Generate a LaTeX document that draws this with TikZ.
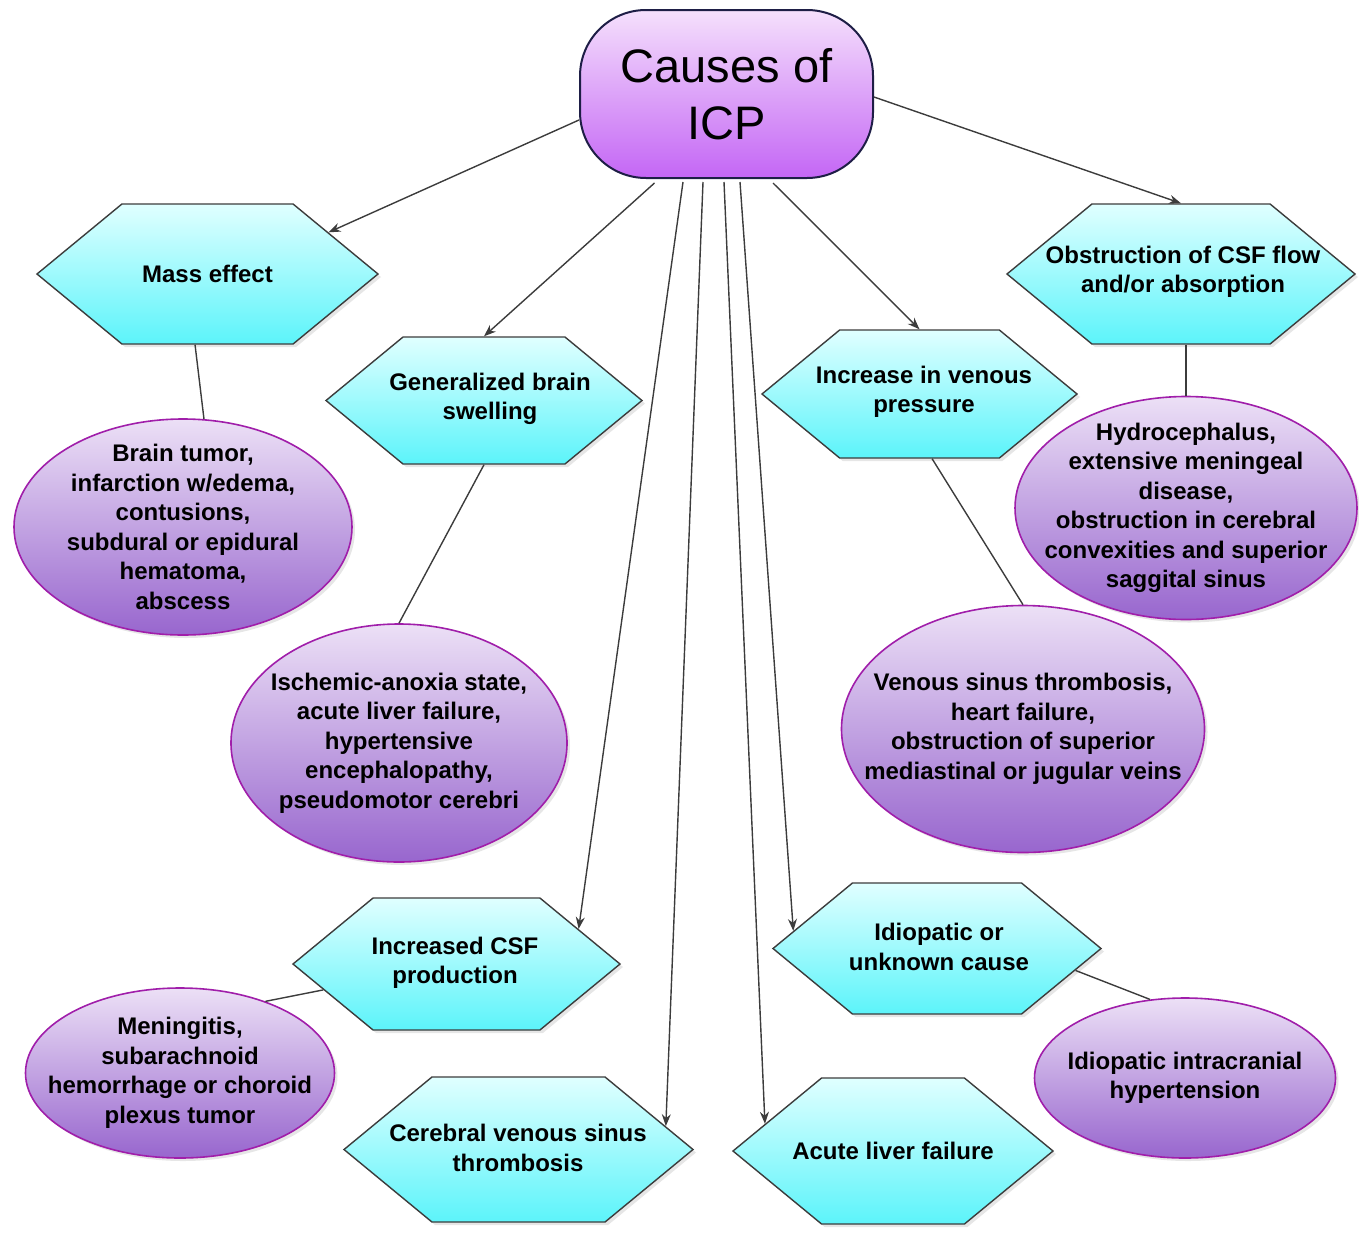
\documentclass[tikz,border=0pt]{standalone}
\usepackage{fontspec}
\setmainfont{Liberation Sans}
\usetikzlibrary{arrows.meta,calc,shapes.geometric,shapes.symbols,shadows}

\definecolor{roottop}{RGB}{245,224,252}
\definecolor{rootbot}{RGB}{196,102,245}
\definecolor{rootline}{RGB}{30,30,70}
\definecolor{hextop}{RGB}{224,255,255}
\definecolor{hexbot}{RGB}{92,244,250}
\definecolor{hexline}{RGB}{60,60,60}
\definecolor{ovaltop}{RGB}{236,224,246}
\definecolor{ovalbot}{RGB}{152,102,206}
\definecolor{ovalline}{RGB}{160,30,170}
\definecolor{edgeline}{RGB}{60,60,60}

\tikzset{
	root/.style={draw=rootline, line width=1pt, rounded corners=33pt, top color=roottop, bottom color=rootbot, minimum width=146.5pt, minimum height=84pt, align=center, font=\fontsize{23.5}{28.5}\selectfont},
	cause/.style={shape=signal, signal to=east and west, signal pointer angle=79, draw=hexline, line width=0.7pt, top color=hextop, bottom color=hexbot, inner sep=0pt, drop shadow={shadow xshift=1.5pt, shadow yshift=-1.5pt, opacity=0.2}},
	oval/.style={ellipse, draw=ovalline, line width=0.8pt, top color=ovaltop, bottom color=ovalbot, inner sep=0pt, drop shadow={shadow xshift=1.5pt, shadow yshift=-1.5pt, opacity=0.2}},
	label text/.style={align=center, font=\bfseries\fontsize{12}{14.75}\selectfont},
	link/.style={draw=edgeline, line width=0.7pt},
	arr/.style={link, -{Stealth[length=6pt, width=4.5pt]}}
}

\begin{document}
\begin{tikzpicture}[x=0.5pt, y=-0.5pt]
	%%%%% START %%%%%
	\useasboundingbox (0, 0) rectangle (1359, 1232);
	
	\node[root] (icp) at (726.5, 94) {Causes of\\ICP};
	
	% groups
	\node[cause, minimum width=170.5pt, minimum height=70pt] (mass) at (207.5, 274) {};
	\node[label text] (mass-t) at (mass) {Mass effect};
	\node[cause, minimum width=158pt, minimum height=63.5pt] (swell) at (484, 400.5) {};
	\node[label text] (swell-t) at (490, 399) {Generalized brain\\swelling};
	\node[cause, minimum width=157.5pt, minimum height=64pt] (venous) at (919.5, 394) {};
	\node[label text] (venous-t) at (924, 392) {Increase in venous\\pressure};
	\node[cause, minimum width=174pt, minimum height=70pt] (flow) at (1181, 274) {};
	\node[label text] (flow-t) at (1183, 272) {Obstruction of CSF flow\\and/or absorption};
	\node[cause, minimum width=163.5pt, minimum height=66pt] (csf) at (456.5, 964) {};
	\node[label text] (csf-t) at (455, 963) {Increased CSF\\production};
	\node[cause, minimum width=164pt, minimum height=65.5pt] (idio) at (937, 948.5) {};
	\node[label text] (idio-t) at (939, 947) {Idiopatic or\\unknown cause};
	\node[cause, minimum width=174.5pt, minimum height=72.5pt] (cvst) at (518.5, 1149.5) {};
	\node[label text] (cvst-t) at (518, 1148) {Cerebral venous sinus\\thrombosis};
	\node[cause, minimum width=160pt, minimum height=73pt] (liver) at (893, 1151) {};
	\node[label text] (liver-t) at (liver) {Acute liver failure};
	
	% examples
	\node[oval, minimum width=169pt, minimum height=108pt] (tumor) at (183, 527) {};
	\node[label text] (tumor-t) at (tumor) {Brain tumor,\\infarction w/edema,\\contusions,\\subdural or epidural\\hematoma,\\abscess};
	\node[oval, minimum width=168pt, minimum height=119pt] (ischemia) at (399, 743) {};
	\node[label text] (ischemia-t) at (ischemia) {Ischemic-anoxia state,\\acute liver failure,\\hypertensive\\encephalopathy,\\pseudomotor cerebri};
	\node[oval, minimum width=181.5pt, minimum height=123.5pt] (thromb) at (1023, 729) {};
	\node[label text] (thromb-t) at (thromb) {Venous sinus thrombosis,\\heart failure,\\obstruction of superior\\mediastinal or jugular veins};
	\node[oval, minimum width=171pt, minimum height=111.5pt] (hydro) at (1186, 508) {};
	\node[label text] (hydro-t) at (hydro) {Hydrocephalus,\\extensive meningeal\\disease,\\obstruction in cerebral\\convexities and superior\\saggital sinus};
	\node[oval, minimum width=154.5pt, minimum height=85pt] (mening) at (180, 1073) {};
	\node[label text] (mening-t) at (mening) {Meningitis,\\subarachnoid\\hemorrhage or choroid\\plexus tumor};
	\node[oval, minimum width=150.5pt, minimum height=80pt] (iih) at (1185, 1078) {};
	\node[label text] (iih-t) at (iih) {Idiopatic intracranial\\hypertension};
	
	% arrows
	\draw[arr] ($(icp.west)+(0, 26)$) -- (mass.19);
	\draw[arr] ($(icp.south)+(-72, 4)$) -- (swell.north);
	\draw[arr] ($(icp.south)+(-43.5, 3)$) -- (csf.16);
	\draw[arr] ($(icp.south)+(-23.5, 3)$) -- (cvst.9);
	\draw[arr] ($(icp.south)+(-2.5, 3)$) -- (liver.168);
	\draw[arr] ($(icp.south)+(13.5, 3)$) -- (idio.173);
	\draw[arr] ($(icp.south)+(46.5, 4)$) -- (venous.north);
	\draw[arr] ($(icp.east)+(0, 3)$) -- (flow.north);
	
	% lines
	\draw[link] (mass.-100) -- (tumor.79);
	\draw[link] (swell.south) -- (ischemia.north);
	\draw[link] (venous.-79) -- (thromb.north);
	\draw[link] (hydro.north |- flow.south) -- (hydro.north);
	\draw[link] (csf.191) -- (mening.40);
	\draw[link] (idio.-9) -- (iih.114);
	%%%%% END %%%%%
\end{tikzpicture}
\end{document}
